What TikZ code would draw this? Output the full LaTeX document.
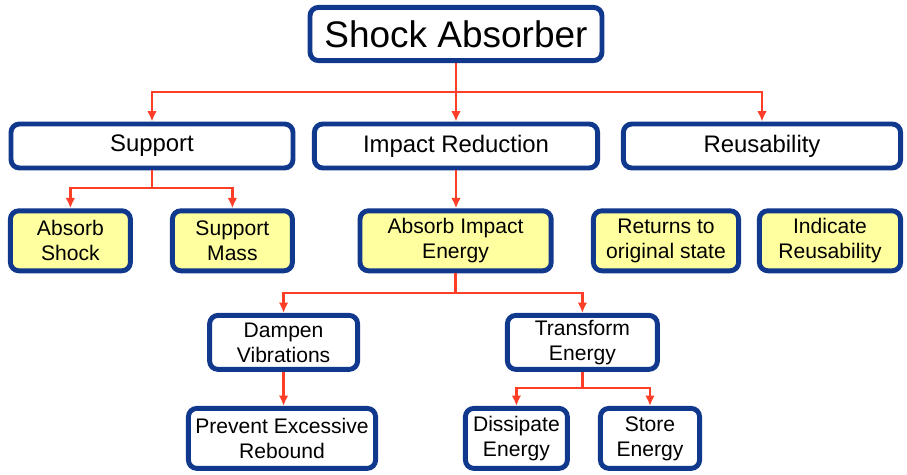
\documentclass[tikz,border=0pt]{standalone}
\usepackage{fontspec}
\setmainfont{Liberation Sans}
\usetikzlibrary{arrows.meta,positioning,calc}
\definecolor{BoxBlue}{RGB}{16,56,140}
\definecolor{LeafYellow}{RGB}{255,255,160}
\definecolor{LinkRed}{RGB}{255,62,40}

\begin{document}
\begin{tikzpicture}[
  b/.style={rectangle,rounded corners=6pt,draw=BoxBlue,line width=3.5pt,fill=white,align=center,inner sep=0pt},
  lvl/.style={b,minimum width=#1,minimum height=1.1cm,font=\fontsize{17}{20}\selectfont},
  leaf/.style={b,fill=LeafYellow,minimum width=#1,minimum height=1.5cm,font=\fontsize{15}{17.8}\selectfont},
  sub/.style={b,minimum width=#1,minimum height=1.5cm,font=\fontsize{15}{17.8}\selectfont},
  lnk/.style={-{Latex[length=2.6mm,width=2.4mm]},line width=2.1pt,LinkRed},
  stem/.style={line width=2.1pt,LinkRed}
]
  \useasboundingbox (0,0) rectangle (22.675,-11.875);
  \node[b,minimum width=7.3cm,minimum height=1.33cm,font=\fontsize{26.3}{30}\selectfont] (top) at (11.4,-0.85) {Shock Absorber};
  \node[lvl=7.05cm] (sup) at (3.8,-3.65) {Support};
  \node[lvl=7.08cm] (imp) at (11.4,-3.65) {Impact Reduction};
  \node[lvl=6.93cm] (reu) at (19.05,-3.65) {Reusability};
  \node[leaf=3.0cm] (abs) at (1.76,-6.02) {Absorb\\Shock};
  \node[leaf=3.0cm] (mas) at (5.81,-6.02) {Support\\Mass};
  \node[leaf=4.78cm] (aie) at (11.39,-6.02) {Absorb Impact\\Energy};
  \node[leaf=3.63cm] (ret) at (16.65,-6.02) {Returns to\\original state};
  \node[leaf=3.53cm] (ind) at (20.75,-6.02) {Indicate\\Reusability};
  \node[sub=3.7cm,minimum height=1.35cm] (dam) at (7.09,-8.56) {Dampen\\Vibrations};
  \node[sub=3.75cm,minimum height=1.35cm] (tra) at (14.56,-8.56) {Transform\\Energy};
  \node[sub=4.68cm] (pre) at (7.05,-10.96) {Prevent Excessive\\Rebound};
  \node[sub=2.55cm] (dis) at (12.91,-10.96) {Dissipate\\Energy};
  \node[sub=2.48cm] (sto) at (16.25,-10.96) {Store\\Energy};
  % branch points
  \coordinate (j1) at (11.4,-2.3);
  \coordinate (j2) at (3.8,-4.7);
  \coordinate (j3) at (11.39,-7.325);
  \coordinate (j4) at (14.56,-9.7);
  \draw[lnk] (top.south) -- (top.south |- imp.north);
  \draw[lnk] (j1) -| (sup.north);
  \draw[lnk] (j1) -| (reu.north);
  \draw[stem] (sup.south) -- (j2);
  \draw[lnk] (j2) -| (abs.north);
  \draw[lnk] (j2) -| (mas.north);
  \draw[lnk] (imp.south) -- (imp.south |- aie.north);
  \draw[stem] (aie.south) -- (j3);
  \draw[lnk] (j3) -| (dam.north);
  \draw[lnk] (j3) -| (tra.north);
  \draw[lnk] (dam.south) -- (dam.south |- pre.north);
  \draw[stem] (tra.south) -- (j4);
  \draw[lnk] (j4) -| (dis.north);
  \draw[lnk] (j4) -| (sto.north);
\end{tikzpicture}
\end{document}
